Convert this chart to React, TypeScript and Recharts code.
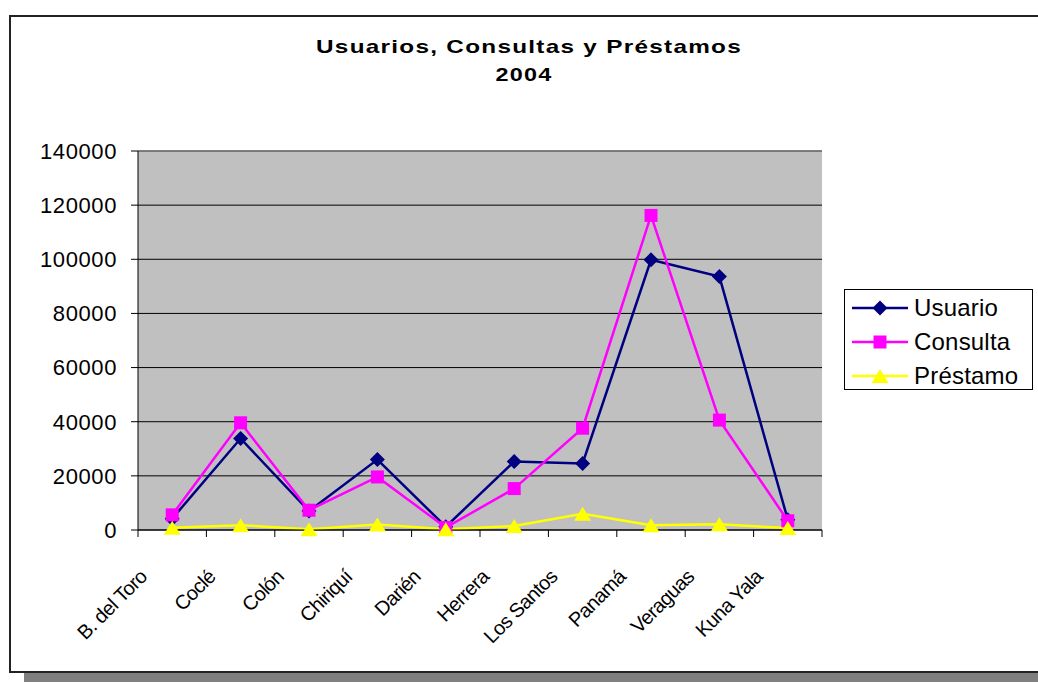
import { LineChart, Line, XAxis, YAxis, CartesianGrid, ReferenceLine } from 'recharts';

const provincias = ['B. del Toro', 'Coclé', 'Colón', 'Chiriquí', 'Darién', 'Herrera', 'Los Santos', 'Panamá', 'Veraguas', 'Kuna Yala'];
const usuario = [4200, 33800, 7000, 26000, 1200, 25300, 24600, 99800, 93600, 3800];
const consulta = [5600, 39600, 7300, 19600, 900, 15300, 37600, 116200, 40600, 3400];
const prestamo = [800, 1800, 300, 2000, 300, 1500, 6000, 1800, 2100, 700];
const yTicks = [0, 20000, 40000, 60000, 80000, 100000, 120000, 140000];

const data = provincias.map((p, i) => ({
  provincia: p,
  Usuario: usuario[i],
  Consulta: consulta[i],
  'Préstamo': prestamo[i],
}));

const W = 1038;
const H = 682;
const PLOT_LEFT = 138;
const PLOT_RIGHT = 822;
const PLOT_TOP = 151;
const PLOT_BOTTOM = 530;
const BAND = (PLOT_RIGHT - PLOT_LEFT) / provincias.length;
const FONT = '"Liberation Sans", Arial, sans-serif';

const NAVY = '#000080';
const MAGENTA = '#FF00FF';
const YELLOW = '#FFFF00';

function diamond(cx: number, cy: number, r: number) {
  return `M${cx},${cy - r}L${cx + r},${cy}L${cx},${cy + r}L${cx - r},${cy}Z`;
}
function triangle(cx: number, cy: number, w: number, h: number) {
  return `M${cx},${cy - h / 2}L${cx + w / 2},${cy + h / 2}L${cx - w / 2},${cy + h / 2}Z`;
}

const DiamondDot = (props: any) => {
  const { cx, cy, index } = props;
  if (cx == null || cy == null) return <g key={index} />;
  return <path key={index} d={diamond(cx, cy, 7.5)} fill={NAVY} />;
};
const SquareDot = (props: any) => {
  const { cx, cy, index } = props;
  if (cx == null || cy == null) return <g key={index} />;
  return <rect key={index} x={cx - 6.5} y={cy - 6.5} width={13} height={13} fill={MAGENTA} />;
};
const TriangleDot = (props: any) => {
  const { cx, cy, index } = props;
  if (cx == null || cy == null) return <g key={index} />;
  return <path key={index} d={triangle(cx, cy, 17, 14)} fill={YELLOW} />;
};

const XTick = (props: any) => {
  const { x, payload, index } = props;
  const left = x - BAND / 2;
  const tx = x - 24;
  const ty = 578;
  return (
    <g>
      <line x1={left} x2={left} y1={PLOT_BOTTOM} y2={PLOT_BOTTOM + 7} stroke="#000" />
      {index === provincias.length - 1 && (
        <line x1={x + BAND / 2} x2={x + BAND / 2} y1={PLOT_BOTTOM} y2={PLOT_BOTTOM + 7} stroke="#000" />
      )}
      <text
        x={tx}
        y={ty}
        textAnchor="end"
        transform={`rotate(-45 ${tx} ${ty})`}
        fontSize={20}
        fontFamily={FONT}
        letterSpacing={-0.6}
        fill="#000"
      >
        {payload.value}
      </text>
    </g>
  );
};

const legendItems = [
  { name: 'Usuario', color: NAVY, shape: 'diamond' },
  { name: 'Consulta', color: MAGENTA, shape: 'square' },
  { name: 'Préstamo', color: YELLOW, shape: 'triangle' },
];

const LegendBox = () => (
  <div
    style={{
      position: 'absolute',
      left: 844,
      top: 289,
      width: 189,
      height: 101,
      border: '1px solid #000',
      background: '#fff',
      boxSizing: 'border-box',
      paddingTop: 1,
      fontFamily: FONT,
    }}
  >
    {legendItems.map((it) => (
      <div key={it.name} style={{ display: 'flex', alignItems: 'center', height: 34 }}>
        <svg width={68} height={20} style={{ display: 'block', flex: 'none' }}>
          <line x1={7} x2={63} y1={10} y2={10} stroke={it.color} strokeWidth={2.5} />
          {it.shape === 'diamond' && <path d={diamond(35, 10, 7.5)} fill={it.color} />}
          {it.shape === 'square' && <rect x={28.5} y={3.5} width={13} height={13} fill={it.color} />}
          {it.shape === 'triangle' && <path d={triangle(35, 10, 17, 14)} fill={it.color} />}
        </svg>
        <span style={{ fontSize: 24, color: '#000', marginLeft: 1, whiteSpace: 'nowrap', letterSpacing: 0.2 }}>{it.name}</span>
      </div>
    ))}
  </div>
);

export default function App() {
  return (
    <div style={{ position: 'absolute', left: 0, top: 0, width: W, height: H, overflow: 'hidden', background: '#fff' }}>
      {/* chart frame + shadow */}
      <div style={{ position: 'absolute', left: 24, top: 673, width: W, height: 10, background: '#808080' }} />
      <div
        style={{
          position: 'absolute',
          left: 9,
          top: 15,
          width: W,
          height: 658,
          border: '2px solid #222',
          boxSizing: 'border-box',
          background: '#fff',
        }}
      />
      <div style={{ position: 'absolute', left: 0, top: 0 }}>
        <LineChart
          width={W}
          height={H}
          data={data}
          margin={{ top: PLOT_TOP, right: W - PLOT_RIGHT, bottom: 0, left: 0 }}
        >
          <CartesianGrid vertical={false} stroke="#000" fill="#C0C0C0" />
          <XAxis
            dataKey="provincia"
            interval={0}
            height={H - PLOT_BOTTOM}
            padding={{ left: BAND / 2, right: BAND / 2 }}
            tickLine={false}
            axisLine={{ stroke: '#000' }}
            tick={<XTick />}
          />
          <YAxis
            width={PLOT_LEFT}
            domain={[0, 140000]}
            ticks={yTicks}
            interval={0}
            tickSize={7}
            tickMargin={14}
            axisLine={{ stroke: '#000' }}
            tickLine={{ stroke: '#000' }}
            tick={{ fontSize: 22, fill: '#000', fontFamily: FONT, letterSpacing: 0.6 }}
          />
          <ReferenceLine y={140000} stroke="#808080" strokeWidth={1.5} />
          <Line dataKey="Usuario" stroke={NAVY} strokeWidth={2.5} dot={DiamondDot} isAnimationActive={false} />
          <Line dataKey="Consulta" stroke={MAGENTA} strokeWidth={2.5} dot={SquareDot} isAnimationActive={false} />
          <Line dataKey="Préstamo" stroke={YELLOW} strokeWidth={2.5} dot={TriangleDot} isAnimationActive={false} />
        </LineChart>
      </div>
      <LegendBox />
      <svg width={W} height={100} style={{ position: 'absolute', left: 0, top: 0, pointerEvents: 'none' }}>
        <text
          x={529}
          y={53}
          textAnchor="middle"
          fontSize={19}
          fontWeight="bold"
          fontFamily={FONT}
          letterSpacing={1}
          textLength={426}
          lengthAdjust="spacingAndGlyphs"
        >
          Usuarios, Consultas y Préstamos
        </text>
        <text
          x={524}
          y={81}
          textAnchor="middle"
          fontSize={19}
          fontWeight="bold"
          fontFamily={FONT}
          letterSpacing={1}
          textLength={57}
          lengthAdjust="spacingAndGlyphs"
        >
          2004
        </text>
      </svg>
    </div>
  );
}
